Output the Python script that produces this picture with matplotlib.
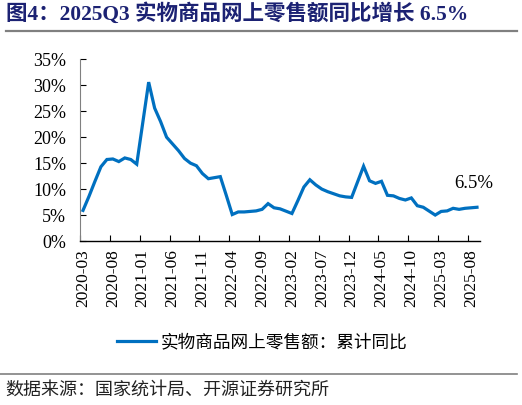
import pandas as pd
import matplotlib.pyplot as plt
from matplotlib.ticker import FixedLocator

# -----------------------------
# Data (cumulative YoY, %)
# -----------------------------
months = [
    "2020-03", "2020-04", "2020-05", "2020-06", "2020-07", "2020-08", "2020-09", "2020-10", "2020-11", "2020-12",
    "2021-02", "2021-03", "2021-04", "2021-05", "2021-06", "2021-07", "2021-08", "2021-09", "2021-10", "2021-11", "2021-12",
    "2022-02", "2022-03", "2022-04", "2022-05", "2022-06", "2022-07", "2022-08", "2022-09", "2022-10", "2022-11", "2022-12",
    "2023-02", "2023-03", "2023-04", "2023-05", "2023-06", "2023-07", "2023-08", "2023-09", "2023-10", "2023-11", "2023-12",
    "2024-02", "2024-03", "2024-04", "2024-05", "2024-06", "2024-07", "2024-08", "2024-09", "2024-10", "2024-11", "2024-12",
    "2025-02", "2025-03", "2025-04", "2025-05", "2025-06", "2025-07", "2025-08", "2025-09",
]
values = [
    5.9, 8.6, 11.5, 14.3, 15.7, 15.8, 15.3, 16.0, 15.7, 14.8,
    30.6, 25.6, 23.0, 20.0, 18.7, 17.4, 15.9, 15.0, 14.5, 13.0, 12.0,
    12.4, 8.8, 5.1, 5.6, 5.6, 5.7, 5.8, 6.1, 7.2, 6.4, 6.2,
    5.3, 7.8, 10.4, 11.8, 10.8, 10.0, 9.5, 9.1, 8.7, 8.5, 8.4,
    14.4, 11.6, 11.1, 11.5, 8.8, 8.7, 8.2, 7.9, 8.3, 6.8, 6.5,
    5.0, 5.7, 5.8, 6.3, 6.1, 6.3, 6.4, 6.5,
]
series_name = "实物商品网上零售额：累计同比"
title = "图4：2025Q3 实物商品网上零售额同比增长 6.5%"
source = "数据来源：国家统计局、开源证券研究所"
y_ticks = [0, 5, 10, 15, 20, 25, 30, 35]

# full monthly category axis
all_months = [str(p) for p in pd.period_range("2020-03", "2025-09", freq="M")]
x = [all_months.index(m) + 0.5 for m in months]

blue = "#0070C0"
serif = ["Liberation Serif", "Noto Sans CJK SC"]
cjk = ["Noto Sans CJK SC", "DejaVu Sans"]

fig = plt.figure(figsize=(5.22, 4.05), dpi=100)
ax = fig.add_axes([0.1533, 0.4049, 0.7662, 0.4487])

line, = ax.plot(x, values, color=blue, lw=2.3, solid_joinstyle="miter")

ax.set_xlim(0, len(all_months))
ax.set_ylim(0, 35)

# x axis: tick marks on category boundaries, labels on category centres
tick_idx = list(range(0, len(all_months), 5))
ax.xaxis.set_major_locator(FixedLocator([i + 0.5 for i in tick_idx]))
ax.set_xticklabels([all_months[i] for i in tick_idx], rotation=90,
                   family=serif, fontsize=12.5)
ax.xaxis.set_minor_locator(FixedLocator(tick_idx))
ax.tick_params(axis="x", which="major", length=0, pad=6)
ax.tick_params(axis="x", which="minor", direction="in", length=4.5, width=0.8)

ax.set_yticks(y_ticks)
ax.set_yticklabels([f"{t}%" for t in y_ticks], family=serif, fontsize=13)
ax.tick_params(axis="y", direction="in", length=4.5, width=0.8, pad=10)

for s in ["top", "right"]:
    ax.spines[s].set_visible(False)
ax.spines["left"].set_color("#808080")
ax.spines["bottom"].set_linewidth(1.0)

# last value label
ax.annotate(f"{values[-1]}%", xy=(x[-1], values[-1]), xytext=(-2, 17),
            textcoords="offset points", ha="center", va="center",
            family=serif, fontsize=13.5)

fig.legend([line], [series_name], loc="center", bbox_to_anchor=(0.503, 0.156),
           frameon=False, handlelength=2.2, handletextpad=0.3,
           prop={"family": cjk, "size": 12.7})

# title, rules and source
fig.text(0.012, 0.965, title, family=serif, fontsize=15.5, weight="bold",
         color="#1c2273", va="center", ha="left")
fig.add_artist(plt.Line2D([0.011, 0.99], [0.923, 0.923], color="#808080", lw=1.6))
fig.add_artist(plt.Line2D([0.0, 0.99], [0.0765, 0.0765], color="#808080", lw=1.2))
fig.text(0.01, 0.037, source, family=cjk, fontsize=13, va="center", ha="left",
         color="#222222")

fig.savefig("out.png", dpi=100)
